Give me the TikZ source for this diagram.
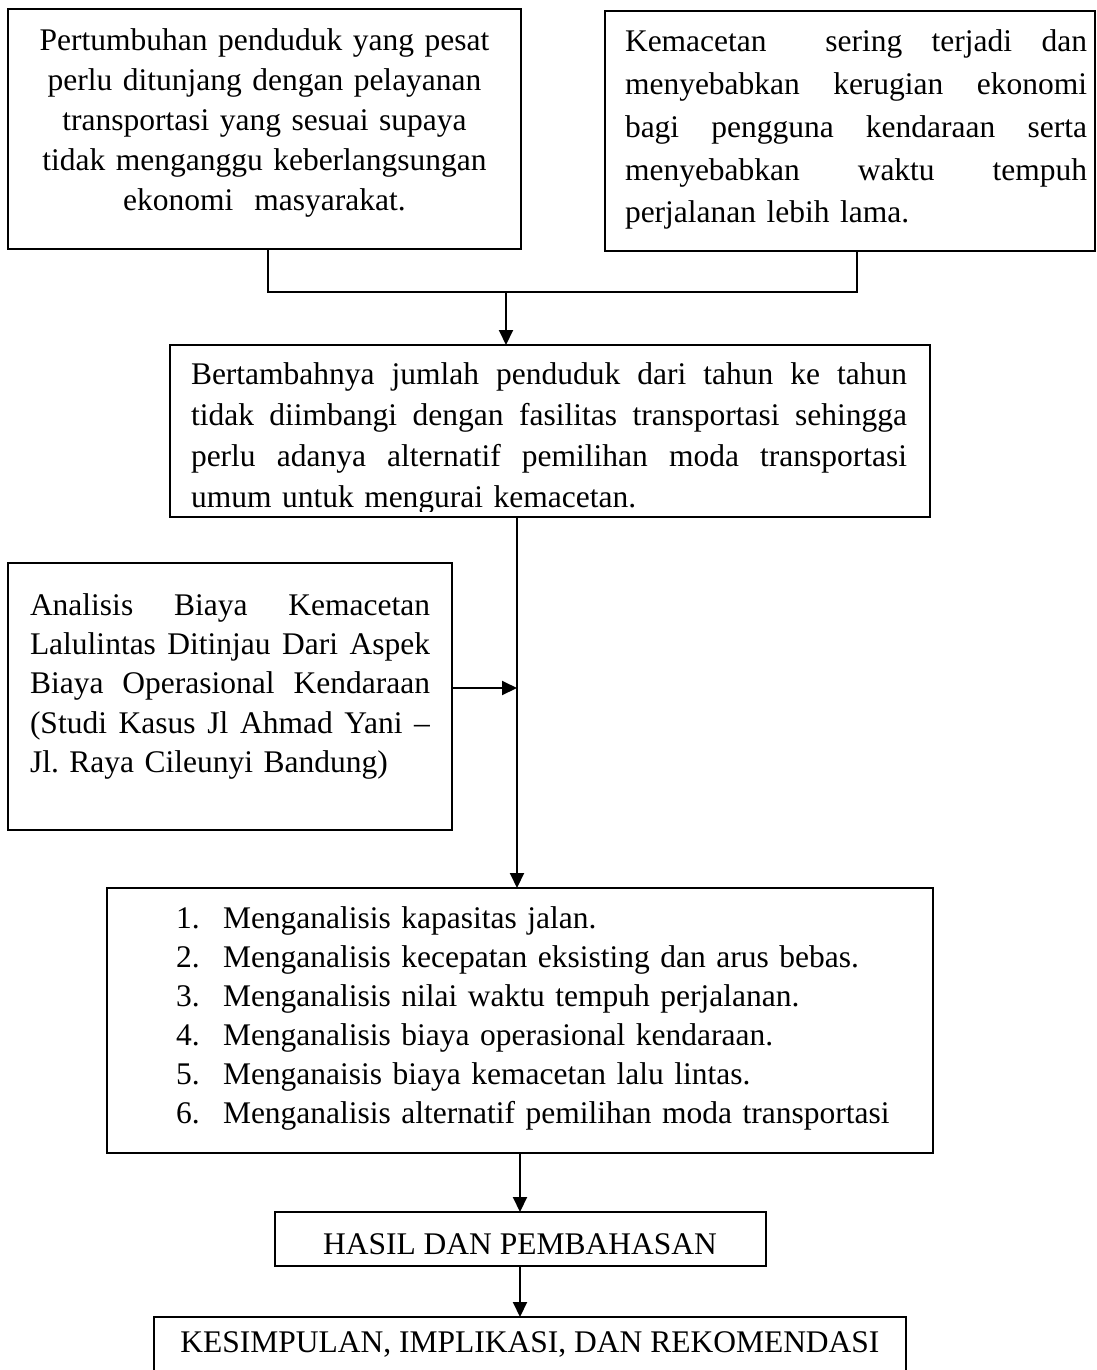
\documentclass[tikz,border=0pt]{standalone}
\usepackage{fontspec}
\setmainfont{Liberation Serif}
\usetikzlibrary{arrows.meta}
\newcommand{\jline}[2]{\makebox[#1][s]{\spaceskip=.25em plus 1fil\relax #2}}
\begin{document}
\begin{tikzpicture}[x=1pt,y=-1pt,
  box/.style={draw, line width=2.4pt, inner sep=0pt, outer sep=0pt, anchor=north west},
  conn/.style={line width=2pt},
  arr/.style={conn, -{Triangle[length=15pt,width=14pt]}},
  txt/.style={inner sep=0pt, outer sep=0pt},
]
\useasboundingbox (0,0) rectangle (1097,1370);

% boxes
\node[box, minimum width=513pt, minimum height=240pt] (b1) at (8,9) {};
\node[box, minimum width=490pt, minimum height=240pt] (b2) at (605,11) {};
\node[box, minimum width=760pt, minimum height=172pt] (b3) at (170,345) {};
\node[box, minimum width=444pt, minimum height=267pt] (b4) at (8,563) {};
\node[box, minimum width=826pt, minimum height=265pt] (b5) at (107,888) {};
\node[box, minimum width=491pt, minimum height=54pt] (b6) at (275,1212) {};
\node[box, minimum width=752pt, minimum height=100pt] (b7) at (154,1317) {};

% texts
\node[txt, anchor=base, text width=480pt, align=center,
      font=\fontsize{31.5}{39.8}\selectfont] (t1) at (264.5,51)
{Pertumbuhan penduduk yang pesat\\
perlu ditunjang dengan pelayanan\\
transportasi yang sesuai supaya\\
tidak menganggu keberlangsungan\\
ekonomi\ \ masyarakat.};

\node[txt, anchor=base west, text width=462pt, align=left,
      font=\fontsize{31.5}{42.7}\selectfont] (t2) at (625,52)
{\jline{462pt}{Kemacetan\ \ sering terjadi dan}\\
\jline{462pt}{menyebabkan kerugian ekonomi}\\
\jline{462pt}{bagi pengguna kendaraan serta}\\
\jline{462pt}{menyebabkan waktu tempuh}\\
perjalanan lebih lama.};

\begin{scope}
\clip (170,345) rectangle (930,511);
\node[txt, anchor=base west, text width=716pt, align=left,
      font=\fontsize{31.5}{41}\selectfont] (t3) at (191,384)
{\jline{716pt}{Bertambahnya jumlah penduduk dari tahun ke tahun}\\
\jline{716pt}{tidak diimbangi dengan fasilitas transportasi sehingga}\\
\jline{716pt}{perlu adanya alternatif pemilihan moda transportasi}\\
umum untuk mengurai kemacetan.};
\end{scope}

\node[txt, anchor=base west, text width=400pt, align=left,
      font=\fontsize{31.5}{39.4}\selectfont] (t4) at (30,615)
{\jline{400pt}{Analisis Biaya Kemacetan}\\
\jline{400pt}{Lalulintas Ditinjau Dari Aspek}\\
\jline{400pt}{Biaya Operasional Kendaraan}\\
\jline{400pt}{(Studi Kasus Jl Ahmad Yani –}\\
Jl.\ Raya Cileunyi Bandung)};

\node[txt, anchor=base west, text width=720pt, align=left,
      font=\fontsize{31.5}{39}\selectfont] (t5) at (176,928)
{\makebox[47pt][l]{1.}Menganalisis kapasitas jalan.\\
\makebox[47pt][l]{2.}Menganalisis kecepatan eksisting dan arus bebas.\\
\makebox[47pt][l]{3.}Menganalisis nilai waktu tempuh perjalanan.\\
\makebox[47pt][l]{4.}Menganalisis biaya operasional kendaraan.\\
\makebox[47pt][l]{5.}Menganaisis biaya kemacetan lalu lintas.\\
\makebox[47pt][l]{6.}Menganalisis alternatif pemilihan moda transportasi};

\node[txt, anchor=base, font=\fontsize{31.5}{38}\selectfont] (t6) at (520,1254) {HASIL DAN PEMBAHASAN};
\node[txt, anchor=base, font=\fontsize{31.5}{38}\selectfont] (t7) at (530,1352) {KESIMPULAN, IMPLIKASI, DAN REKOMENDASI};

% connectors
\coordinate (j1) at (268,292);
\coordinate (j2) at (857,292);
\coordinate (m) at (506,292);
\coordinate (v) at (517,0);
\coordinate (a4) at (517,688);
\coordinate (w) at (520,0);

\draw[conn] (b1.south -| j1) -- (j1) -- (j2) -- (b2.south -| j2);
\draw[arr] (m) -- (b3.north -| m);
\draw[arr] (b3.south -| v) -- (b5.north -| v);
\draw[arr] (b4.east |- a4) -- (a4);
\draw[arr] (b5.south -| w) -- (b6.north -| w);
\draw[arr] (b6.south -| w) -- (b7.north -| w);
\end{tikzpicture}
\end{document}
